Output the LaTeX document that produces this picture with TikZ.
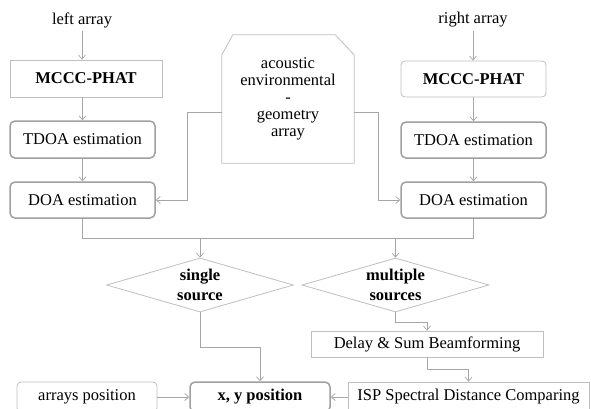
\documentclass[tikz,border=0pt]{standalone}
\usepackage{fontspec}
\setmainfont{Liberation Serif}
\usetikzlibrary{arrows.meta,shapes.geometric}
\definecolor{lgray}{HTML}{BFBFBF}
\definecolor{dgray}{HTML}{A0A0A0}
\definecolor{agray}{HTML}{A6A6A6}
\newcommand\myfnt{\fontsize{16.5}{17}\selectfont}
\begin{document}
\begin{tikzpicture}[x=1pt,y=-1pt, font=\myfnt,
 box/.style={draw=lgray, line width=0.8pt, inner sep=0pt, align=center},
 sqbox/.style={box, rectangle},
 rlbox/.style={box, rounded corners=4pt},
 rdbox/.style={box, draw=dgray, line width=1.5pt, rounded corners=5pt},
 arr/.style={draw=agray, line width=0.7pt, -{Straight Barb[length=4pt,width=7pt]}},
 ln/.style={draw=agray, line width=0.7pt},
 dia/.style={diamond, draw=lgray, line width=0.8pt, inner sep=0pt, aspect=3.44, minimum width=187pt, minimum height=54pt},
 dlab/.style={align=center, font=\fontsize{16.5}{20}\selectfont\bfseries}
]
\clip (0,0) rectangle (591,408);
% left column
\node (llab) at (82,20) {left array};
\node[sqbox, minimum width=152pt, minimum height=37pt] (lmc) at (86,78.5) {\textbf{MCCC-PHAT}};
\node[rdbox, minimum width=145pt, minimum height=37pt] (ltd) at (82.5,139.5) {TDOA estimation};
\node[rdbox, minimum width=145pt, minimum height=36pt] (ldo) at (82.5,200) {DOA estimation};
% right column
\node (rlab) at (473,20) {right array};
\node[rlbox, minimum width=145pt, minimum height=36pt] (rmc) at (473.5,79) {\textbf{MCCC-PHAT}};
\node[rdbox, minimum width=145pt, minimum height=36pt] (rtd) at (473.5,140) {TDOA estimation};
\node[rdbox, minimum width=145pt, minimum height=36pt] (rdo) at (473.5,200) {DOA estimation};
% acoustic box
\node[minimum width=132pt, minimum height=128pt, inner sep=0pt, align=center] (ac) at (288,99) {acoustic\\environmental\\-\\geometry\\array};
\draw[lgray, line width=0.8pt] (ac.south west) -- ([yshift=-20pt]ac.north west) -- ([xshift=11pt]ac.north west) -- ([xshift=-19pt]ac.north east) -- ([yshift=-20pt]ac.north east) -- (ac.south east) -- cycle;
% diamonds
\node[dia, label={[dlab]center:single\\source}] (single) at (200,285) {};
\node[dia, label={[dlab]center:multiple\\sources}] (multi) at (395.5,285) {};
% lower boxes
\node[sqbox, minimum width=232pt, minimum height=26pt] (dly) at (427,344) {Delay \& Sum Beamforming};
\node[sqbox, minimum width=241pt, minimum height=30pt] (isp) at (468.5,397) {ISP Spectral Distance Comparing};
\node[rdbox, minimum width=140pt, minimum height=30pt] (xy) at (260,397) {\textbf{x, y position}};
\node[rlbox, minimum width=140pt, minimum height=30pt] (ar) at (87,397) {arrays position};
% connectors
\draw[arr] (llab.south) -- (llab.south |- lmc.north);
\draw[arr] (lmc.south -| ltd) -- (ltd.north);
\draw[arr] (ltd) -- (ldo);
\draw[arr] (rlab.south) -- (rlab.south |- rmc.north);
\draw[arr] (rmc) -- (rtd);
\draw[arr] (rtd) -- (rdo);
\draw[arr] ([yshift=-13pt]ac.west) -- ++(-34,0) |- (ldo.east);
\draw[arr] ([yshift=-13pt]ac.east) -- ++(24,0) |- (rdo.west);
\draw[ln] (ldo.south) -- ++(0,20) -| (rdo.south);
\coordinate (bus) at (0,238);
\draw[arr] (bus -| single.north) -- (single.north);
\draw[arr] (bus -| multi.north) -- (multi.north);
\draw[arr] (single.south) -- ++(0,35) -| (xy.north);
\draw[arr] (multi.south) -- ++(0,10) -| (dly.north);
\draw[arr] (dly.south) -- ++(0,12) -| (isp.north);
\draw[arr] (ar.east) -- (xy.west);
\draw[arr] (isp.west) -- (xy.east);
\end{tikzpicture}
\end{document}
